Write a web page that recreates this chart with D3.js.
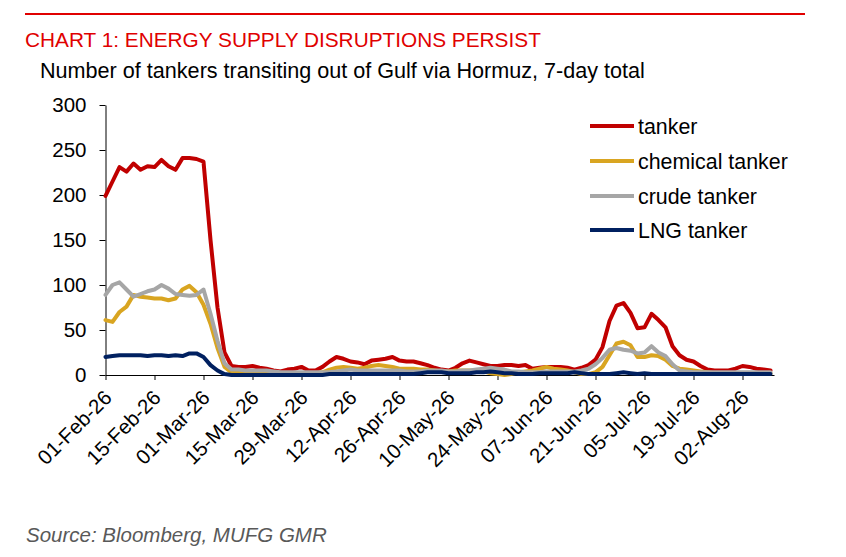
<!DOCTYPE html>
<html>
<head>
<meta charset="utf-8">
<script src="https://cdn.jsdelivr.net/npm/d3@7"></script>
<style>
  body { margin: 0; background: #fff; }
  svg { display: block; font-family: "Liberation Sans", Arial, sans-serif; }
</style>
</head>
<body>
<div id="chart"></div>
<script>
// one value every 2 days, starting 01-Feb-26
const startDay = "01-Feb-26";
const stepDays = 2;

const tanker = [
  199, 215, 231, 226, 235, 228, 232, 231, 239, 232,
  228, 241, 241, 240, 237, 150, 75, 25, 10, 9,
  9, 10, 8, 7, 5, 4, 6, 7, 9, 5,
  5, 9, 15, 20, 18, 15, 14, 12, 16, 17,
  18, 20, 16, 15, 15, 13, 11, 8, 6, 5,
  8, 13, 16, 14, 12, 10, 10, 11, 11, 10,
  11, 7, 8, 9, 9, 9, 8, 6, 8, 11,
  17, 31, 60, 77, 80, 69, 52, 53, 68, 61,
  53, 32, 22, 17, 15, 10, 6, 5, 5, 5,
  7, 10, 9, 7, 6, 5
];

const chemicalTanker = [
  61, 59, 70, 76, 89, 87, 86, 85, 85, 83,
  85, 95, 99, 92, 78, 57, 30, 9, 3, 3,
  2, 2, 2, 2, 2, 1, 1, 2, 2, 2,
  2, 3, 6, 8, 9, 8, 7, 8, 10, 11,
  10, 9, 7, 7, 7, 6, 6, 5, 4, 4,
  5, 5, 5, 5, 4, 2, 1, 0, 1, 3,
  4, 5, 7, 9, 7, 6, 5, 3, 1, 1,
  3, 9, 22, 35, 37, 33, 20, 20, 22, 21,
  17, 10, 7, 6, 5, 4, 3, 2, 2, 2,
  2, 2, 2, 2, 2, 2
];

const crudeTanker = [
  89, 100, 103, 95, 87, 90, 93, 95, 100, 96,
  90, 89, 88, 89, 95, 68, 38, 13, 6, 6,
  5, 5, 5, 5, 4, 3, 3, 3, 3, 3,
  3, 3, 3, 4, 5, 6, 5, 5, 5, 5,
  5, 5, 5, 4, 4, 4, 5, 5, 5, 4,
  4, 5, 5, 6, 7, 8, 7, 6, 4, 4,
  3, 3, 3, 4, 4, 4, 4, 4, 5, 7,
  12, 19, 28, 30, 28, 27, 24, 25, 32, 25,
  21, 12, 5, 4, 3, 3, 3, 3, 3, 3,
  3, 3, 3, 3, 3, 3
];

const lngTanker = [
  20, 21, 22, 22, 22, 22, 21, 22, 22, 21,
  22, 21, 24, 24, 20, 11, 5, 1, 0, 0,
  0, 0, 0, 0, 0, 0, 0, 0, 0, 0,
  0, 0, 1, 1, 1, 1, 1, 1, 1, 1,
  1, 1, 1, 1, 1, 2, 3, 3, 3, 2,
  2, 2, 2, 3, 3, 4, 3, 2, 2, 1,
  1, 1, 2, 2, 2, 2, 2, 3, 2, 1,
  1, 1, 1, 2, 3, 2, 1, 2, 1, 1,
  1, 1, 1, 1, 1, 1, 1, 1, 1, 1,
  1, 1, 1, 1, 1, 1
];

const seriesNames = ["tanker", "chemical tanker", "crude tanker", "LNG tanker"];
const seriesColors = ["#c00000", "#d9a521", "#a6a6a6", "#002060"];

const xTickLabels = [
  "01-Feb-26", "15-Feb-26", "01-Mar-26", "15-Mar-26", "29-Mar-26", "12-Apr-26", "26-Apr-26",
  "10-May-26", "24-May-26", "07-Jun-26", "21-Jun-26", "05-Jul-26", "19-Jul-26", "02-Aug-26"
];
const yTicks = [0, 50, 100, 150, 200, 250, 300];
const axisEnd = "11-Aug-26";

const parseDay = d3.timeParse("%d-%b-%y");
const formatDay = d3.timeFormat("%d-%b-%y");
const start = parseDay(startDay);

const series = [tanker, chemicalTanker, crudeTanker, lngTanker].map((values, s) => ({
  name: seriesNames[s],
  color: seriesColors[s],
  points: values.map((v, i) => ({ date: d3.timeDay.offset(start, i * stepDays), value: v }))
}));

const W = 846, H = 557;
const margin = { top: 105, left: 105.5 };
const width = 668.5, height = 270;

const svg = d3.select("#chart").append("svg")
  .attr("width", W)
  .attr("height", H);

svg.append("rect").attr("width", W).attr("height", H).attr("fill", "#fff");

// header
svg.append("line")
  .attr("x1", 25).attr("x2", 805)
  .attr("y1", 14).attr("y2", 14)
  .attr("stroke", "#e00000")
  .attr("stroke-width", 2);

svg.append("text")
  .attr("x", 25).attr("y", 47)
  .attr("fill", "#e00000")
  .style("font-size", "20.8px")
  .text("CHART 1: ENERGY SUPPLY DISRUPTIONS PERSIST");

svg.append("text")
  .attr("x", 40).attr("y", 78)
  .attr("fill", "#000")
  .style("font-size", "21.6px")
  .text("Number of tankers transiting out of Gulf via Hormuz, 7-day total");

svg.append("text")
  .attr("x", 26).attr("y", 542)
  .attr("fill", "#595959")
  .style("font-size", "20.5px")
  .style("font-style", "italic")
  .text("Source: Bloomberg, MUFG GMR");

const g = svg.append("g")
  .attr("transform", `translate(${margin.left},${margin.top})`);

const x = d3.scaleTime()
  .domain([start, parseDay(axisEnd)])
  .range([0, width]);

const y = d3.scaleLinear()
  .domain([0, 300])
  .range([height, 0]);

// Y axis
const yAxis = g.append("g")
  .call(d3.axisLeft(y).tickValues(yTicks).tickSize(6).tickPadding(13).tickSizeOuter(0));
yAxis.selectAll("text").style("font-size", "20.5px").attr("fill", "#000");
yAxis.selectAll("line, path").attr("stroke", "#000");

// X axis
const xAxis = g.append("g")
  .attr("transform", `translate(0,${height})`)
  .call(d3.axisBottom(x)
    .tickValues(xTickLabels.map(parseDay))
    .tickFormat(formatDay)
    .tickSize(5)
    .tickSizeOuter(0));
xAxis.selectAll("line, path").attr("stroke", "#000");
xAxis.selectAll("text")
  .style("font-size", "20.5px")
  .attr("fill", "#000")
  .attr("x", 0).attr("y", 0).attr("dy", 0)
  .attr("text-anchor", "end")
  .attr("transform", "translate(7,24) rotate(-45)");

// lines
const line = d3.line()
  .x(d => x(d.date))
  .y(d => y(d.value));

g.selectAll(".series")
  .data(series)
  .join("path")
  .attr("class", "series")
  .attr("fill", "none")
  .attr("stroke", d => d.color)
  .attr("stroke-width", 4)
  .attr("stroke-linejoin", "round")
  .attr("stroke-linecap", "round")
  .attr("d", d => line(d.points));

// legend
const legendY = [126, 161, 196, 230];
const legend = svg.append("g")
  .selectAll("g")
  .data(series)
  .join("g")
  .attr("transform", (d, i) => `translate(590,${legendY[i]})`);

legend.append("line")
  .attr("x1", 0).attr("x2", 44)
  .attr("stroke", d => d.color)
  .attr("stroke-width", 4);

legend.append("text")
  .attr("x", 48)
  .attr("dy", "0.35em")
  .style("font-size", "21.4px")
  .attr("fill", "#000")
  .text(d => d.name);
</script>
</body>
</html>
